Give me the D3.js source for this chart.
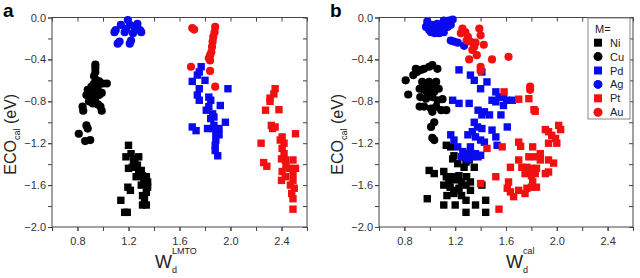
<!DOCTYPE html>
<html lang="en">
  <head>
    <meta charset="UTF-8" />
    <title>ECO vs Wd</title>
    <style>
      body { margin: 0; background: #fff; }
      svg { display: block; font-family: "Liberation Sans", Arial, sans-serif; }
      .axis path, .axis line { stroke: #444; }
      .axis text { fill: #333; font-size: 11px; }
    </style>
  </head>
  <body>
    <svg id="chart" width="640" height="278"></svg>

    <script src="https://cdnjs.cloudflare.com/ajax/libs/d3/7.8.5/d3.min.js"></script>
    <script>
      // tick labels
      const xTicks = [0.8, 1.2, 1.6, 2.0, 2.4];
      const yTicks = [0.0, -0.4, -0.8, -1.2, -1.6, -2.0];
      const legendNames = ["Ni", "Cu", "Pd", "Ag", "Pt", "Au"];

      // panel a : W_d^LMTO vs ECO_cal
      const niA = [
        [1.2, -1.22], [1.18, -1.33], [1.22, -1.3], [1.25, -1.35], [1.28, -1.33],
        [1.2, -1.44], [1.23, -1.43], [1.27, -1.41], [1.3, -1.46], [1.31, -1.51],
        [1.34, -1.52], [1.29, -1.51], [1.26, -1.52], [1.35, -1.57], [1.35, -1.62],
        [1.34, -1.67], [1.325, -1.73], [1.31, -1.79], [1.34, -1.79], [1.195, -1.62],
        [1.215, -1.65], [1.14, -1.745], [1.17, -1.86], [1.19, -1.86], [1.3, -1.6],
        [1.32, -1.57], [1.31, -1.7], [1.24, -1.37], [1.28, -1.47]
      ];
      const cuA = [
        [0.94, -0.45], [0.94, -0.48], [0.94, -0.52], [0.93, -0.56], [0.95, -0.6],
        [0.93, -0.63], [0.97, -0.61], [1.0, -0.63], [1.03, -0.63], [0.91, -0.66],
        [0.96, -0.66], [0.88, -0.69], [0.92, -0.71], [0.95, -0.7], [0.87, -0.74],
        [0.9, -0.76], [0.94, -0.77], [0.97, -0.74], [0.89, -0.8], [0.92, -0.82],
        [0.98, -0.85], [0.99, -0.89], [0.96, -0.83], [0.84, -0.85], [0.845, -0.89],
        [0.87, -1.03], [0.88, -1.06], [0.81, -1.11], [0.86, -1.18], [0.9, -1.17],
        [0.95, -0.68], [0.99, -0.72]
      ];
      const pdA = [
        [1.77, -0.47], [1.755, -0.52], [1.74, -0.55], [1.7, -0.61], [1.8, -0.6],
        [1.755, -0.68], [1.74, -0.74], [1.755, -0.79], [1.83, -0.76], [1.845, -0.79],
        [1.83, -0.85], [1.92, -0.84], [1.98, -0.68], [1.81, -0.885], [1.86, -0.92],
        [1.845, -0.965], [1.87, -0.95], [1.96, -1.0], [1.7, -1.045], [1.73, -1.08],
        [1.82, -1.06], [1.86, -1.06], [1.91, -1.06], [1.885, -1.11], [1.91, -1.12],
        [1.885, -1.17], [1.88, -1.22], [1.88, -1.27], [1.9, -1.32], [1.87, -1.03]
      ];
      const agA = [
        [1.1, -0.12], [1.09, -0.14], [1.14, -0.07], [1.17, -0.14], [1.195, -0.025],
        [1.21, -0.07], [1.235, -0.15], [1.25, -0.09], [1.27, -0.06], [1.29, -0.12],
        [1.3, -0.14], [1.115, -0.25], [1.13, -0.23], [1.21, -0.25], [1.22, -0.22],
        [1.26, -0.08], [1.18, -0.11]
      ];
      const ptA = [
        [2.35, -0.68], [2.34, -0.73], [2.31, -0.77], [2.31, -0.8], [2.275, -0.885],
        [2.38, -0.88], [2.32, -1.03], [2.33, -1.06], [2.35, -1.045], [2.51, -1.11],
        [2.24, -1.2], [2.405, -1.14], [2.39, -1.17], [2.42, -1.2], [2.405, -1.25],
        [2.42, -1.3], [2.4, -1.35], [2.43, -1.36], [2.49, -1.36], [2.26, -1.385],
        [2.285, -1.42], [2.435, -1.41], [2.46, -1.44], [2.51, -1.44], [2.49, -1.49],
        [2.405, -1.47], [2.43, -1.52], [2.49, -1.555], [2.47, -1.6], [2.5, -1.63],
        [2.48, -1.68], [2.49, -1.73], [2.49, -1.83], [2.4, -1.555]
      ];
      const auA = [
        [1.7, -0.1], [1.715, -0.115], [1.88, -0.09], [1.875, -0.14], [1.865, -0.185],
        [1.86, -0.23], [1.855, -0.28], [1.85, -0.33], [1.84, -0.36], [1.83, -0.39],
        [1.84, -0.41], [1.69, -0.47], [1.84, -0.51], [1.88, -0.66]
      ];

      // panel b : W_d^cal vs ECO_cal
      const niB = [
        [0.995, -1.46], [1.035, -1.49], [1.11, -1.47], [1.18, -1.35], [1.19, -1.32],
        [1.13, -1.22], [1.165, -1.235], [1.22, -1.395], [1.27, -1.43], [1.285, -1.38],
        [1.31, -1.36], [1.35, -1.43], [1.13, -1.52], [1.15, -1.57], [1.18, -1.52],
        [1.2, -1.55], [1.23, -1.51], [1.25, -1.57], [1.11, -1.6], [1.16, -1.62],
        [1.19, -1.65], [1.23, -1.63], [1.285, -1.6], [1.32, -1.65], [1.135, -1.7],
        [1.19, -1.68], [1.25, -1.7], [1.285, -1.745], [0.98, -1.73], [1.11, -1.79],
        [1.2, -1.79], [1.36, -1.79], [1.44, -1.745], [1.285, -1.86], [1.44, -1.86],
        [1.41, -1.6], [1.32, -1.57], [1.29, -1.52]
      ];
      const cuB = [
        [0.81, -0.6], [0.83, -0.735], [0.89, -0.49], [0.9, -0.52], [0.93, -0.5],
        [0.955, -0.49], [0.995, -0.47], [1.02, -0.455], [1.06, -0.49], [0.87, -0.55],
        [0.94, -0.615], [0.97, -0.63], [0.995, -0.615], [1.02, -0.645], [1.05, -0.615],
        [0.92, -0.68], [0.955, -0.69], [0.995, -0.69], [1.035, -0.71], [1.07, -0.68],
        [0.925, -0.76], [0.97, -0.775], [1.02, -0.76], [1.06, -0.79], [1.1, -0.78],
        [0.92, -0.85], [0.955, -0.85], [1.01, -0.87], [1.05, -0.85], [1.09, -0.885],
        [1.13, -0.885], [1.02, -0.9], [1.01, -1.045], [1.035, -1.0], [1.035, -1.17],
        [1.02, -1.15], [1.005, -0.74], [0.98, -0.71]
      ];
      const pdB = [
        [1.23, -0.5], [1.32, -0.55], [1.35, -0.6], [1.41, -0.52], [1.45, -0.615],
        [1.4, -0.68], [1.18, -0.79], [1.23, -0.82], [1.31, -0.82], [1.52, -0.71],
        [1.545, -0.76], [1.49, -0.79], [1.52, -0.805], [1.58, -0.76], [1.605, -0.79],
        [1.65, -0.79], [1.58, -0.84], [1.38, -0.885], [1.43, -0.9], [1.41, -0.93],
        [1.47, -0.93], [1.56, -0.93], [1.35, -1.0], [1.375, -1.045], [1.41, -1.06],
        [1.49, -1.075], [1.61, -1.045], [1.335, -1.09], [1.3, -1.12], [1.36, -1.14],
        [1.4, -1.17], [1.43, -1.19], [1.52, -1.14], [1.53, -1.22], [1.165, -1.12],
        [1.19, -1.17], [1.22, -1.235], [1.32, -1.235], [1.26, -1.28], [1.285, -1.3],
        [1.32, -1.3], [1.36, -1.3], [1.4, -1.315], [1.25, -1.33], [1.3, -1.35],
        [1.33, -1.33], [1.38, -1.33]
      ];
      const agB = [
        [0.98, -0.04], [0.995, -0.12], [1.02, -0.07], [1.05, -0.105], [1.06, -0.06],
        [1.09, -0.12], [1.1, -0.08], [1.11, -0.14], [1.125, -0.04], [1.14, -0.09],
        [1.15, -0.03], [1.165, -0.07], [1.18, -0.02], [1.075, -0.15], [1.04, -0.15],
        [0.97, -0.09], [1.165, -0.22], [1.19, -0.23], [1.22, -0.24], [1.27, -0.27],
        [1.01, -0.14], [1.11, -0.03]
      ];
      const ptB = [
        [1.585, -0.71], [1.7, -0.78], [1.78, -0.775], [1.82, -0.88], [1.83, -0.895],
        [1.57, -1.235], [1.45, -1.25], [1.7, -1.19], [1.715, -1.23], [1.81, -1.235],
        [1.935, -1.2], [1.91, -1.07], [1.935, -1.09], [1.96, -1.125], [1.99, -1.155],
        [2.0, -1.2], [2.015, -1.03], [2.03, -1.07], [1.78, -1.33], [1.83, -1.33],
        [1.87, -1.3], [1.87, -1.36], [1.935, -1.36], [1.975, -1.39], [1.7, -1.36],
        [1.635, -1.43], [1.725, -1.43], [1.765, -1.43], [1.8, -1.44], [1.84, -1.44],
        [1.75, -1.49], [1.8, -1.51], [1.83, -1.49], [1.91, -1.49], [1.935, -1.475],
        [1.52, -1.52], [1.4, -1.585], [1.62, -1.57], [1.61, -1.63], [1.635, -1.665],
        [1.66, -1.71], [1.7, -1.65], [1.765, -1.63], [1.75, -1.68], [1.8, -1.62],
        [1.81, -1.57], [1.84, -1.62], [1.545, -1.83]
      ];
      const auB = [
        [1.257, -0.105], [1.245, -0.15], [1.28, -0.14], [1.3, -0.185], [1.29, -0.22],
        [1.32, -0.23], [1.35, -0.28], [1.335, -0.31], [1.39, -0.105], [1.4, -0.17],
        [1.425, -0.26], [1.37, -0.36], [1.31, -0.4], [1.49, -0.4], [1.62, -0.375],
        [1.4, -0.47], [1.4, -0.51], [1.36, -0.24], [1.79, -0.66], [1.79, -0.69]
      ];

      const svg = d3.select("#chart");
      const black = "#000", blue = "#0a0af0", red = "#f31010";

      function drawPanel({ left, right, letter, sup, titleX, series, legend }) {
        const top = 17.5, bottom = 227;
        const x = d3.scaleLinear().domain([0.6, 2.6]).range([left, right]);
        const y = d3.scaleLinear().domain([-2.0, 0.0]).range([bottom, top]);
        const minorX = d3.range(0.6, 2.61, 0.2);
        const minorY = d3.range(-2.0, 0.01, 0.2);

        const g = svg.append("g");

        // frame
        g.append("rect")
          .attr("x", left).attr("y", top)
          .attr("width", right - left).attr("height", bottom - top)
          .attr("fill", "none").attr("stroke", "#444").attr("stroke-width", 1);

        // ticks every 0.2, bottom/left outside, top/right inside
        g.append("g").attr("class", "axis")
          .attr("transform", `translate(0,${bottom})`)
          .call(d3.axisBottom(x).tickValues(minorX).tickSize(4).tickFormat(""))
          .call((s) => s.select(".domain").remove());
        g.append("g").attr("class", "axis")
          .attr("transform", `translate(0,${bottom})`)
          .call(d3.axisBottom(x).tickValues(xTicks).tickSize(4).tickPadding(6)
            .tickFormat(d3.format(".1f")))
          .call((s) => s.select(".domain").remove());
        g.append("g").attr("class", "axis")
          .attr("transform", `translate(${left},0)`)
          .call(d3.axisLeft(y).tickValues(minorY).tickSize(4).tickFormat(""))
          .call((s) => s.select(".domain").remove());
        g.append("g").attr("class", "axis")
          .attr("transform", `translate(${left},0)`)
          .call(d3.axisLeft(y).tickValues(yTicks).tickSize(4).tickPadding(2)
            .tickFormat(d3.format(".1f")))
          .call((s) => s.select(".domain").remove());
        g.append("g").attr("class", "axis")
          .attr("transform", `translate(0,${top})`)
          .call(d3.axisBottom(x).tickValues(minorX).tickSize(4).tickFormat(""))
          .call((s) => s.select(".domain").remove());
        g.append("g").attr("class", "axis")
          .attr("transform", `translate(${right},0)`)
          .call(d3.axisRight(y).tickValues(minorY).tickSize(-4).tickFormat(""))
          .call((s) => s.select(".domain").remove());

        // points
        series.forEach((s) => {
          const layer = g.append("g").attr("fill", s.color);
          if (s.shape === "square") {
            layer.selectAll("rect").data(s.data).join("rect")
              .attr("x", (d) => x(d[0]) - 3.7)
              .attr("y", (d) => y(d[1]) - 3.7)
              .attr("width", 7.4).attr("height", 7.4);
          } else {
            layer.selectAll("circle").data(s.data).join("circle")
              .attr("cx", (d) => x(d[0]))
              .attr("cy", (d) => y(d[1]))
              .attr("r", 4.1);
          }
        });

        // panel letter
        svg.append("text")
          .attr("x", left - 49).attr("y", 17)
          .attr("font-size", 19).attr("font-weight", "bold")
          .text(letter);

        // y title
        const yt = svg.append("text")
          .attr("transform", `translate(${left - 36},${(top + bottom) / 2 + 12}) rotate(-90)`)
          .attr("text-anchor", "middle")
          .attr("font-size", 16).attr("fill", "#222");
        yt.append("tspan").text("ECO");
        yt.append("tspan").attr("font-size", 9).attr("dy", 4).text("cal");
        yt.append("tspan").attr("dy", -4).text(" (eV)");

        // x title
        const xt = svg.append("text")
          .attr("x", titleX).attr("y", 268)
          .attr("font-size", 18).attr("fill", "#222");
        xt.append("tspan").text("W");
        xt.append("tspan").attr("font-size", 9).attr("dy", 5).text("d");
        xt.append("tspan").attr("font-size", 9).attr("dx", -5).attr("dy", -19).text(sup);

        if (legend) {
          const lg = g.append("g");
          lg.append("rect")
            .attr("x", 588).attr("y", 18).attr("width", 42).attr("height", 101)
            .attr("fill", "#fff").attr("stroke", "#888");
          lg.append("text").attr("x", 595).attr("y", 33)
            .attr("font-size", 11).attr("fill", "#222").text("M=");
          const ly = d3.scalePoint().domain(legendNames).range([42.7, 112.2]);
          series.forEach((s) => {
            const yy = ly(s.name);
            if (s.shape === "square") {
              lg.append("rect").attr("x", 598 - 4).attr("y", yy - 4)
                .attr("width", 8).attr("height", 8).attr("fill", s.color);
            } else {
              lg.append("circle").attr("cx", 598).attr("cy", yy).attr("r", 4.5)
                .attr("fill", s.color);
            }
            lg.append("text").attr("x", 610).attr("y", yy + 4)
              .attr("font-size", 11).attr("fill", "#222").text(s.name);
          });
        }
      }

      drawPanel({
        left: 52, right: 307, letter: "a", sup: "LMTO", titleX: 155,
        series: [
          { name: "Ni", shape: "square", color: black, data: niA },
          { name: "Cu", shape: "circle", color: black, data: cuA },
          { name: "Pd", shape: "square", color: blue, data: pdA },
          { name: "Ag", shape: "circle", color: blue, data: agA },
          { name: "Pt", shape: "square", color: red, data: ptA },
          { name: "Au", shape: "circle", color: red, data: auA }
        ]
      });

      drawPanel({
        left: 379, right: 633, letter: "b", sup: "cal", titleX: 506, legend: true,
        series: [
          { name: "Ni", shape: "square", color: black, data: niB },
          { name: "Cu", shape: "circle", color: black, data: cuB },
          { name: "Pd", shape: "square", color: blue, data: pdB },
          { name: "Ag", shape: "circle", color: blue, data: agB },
          { name: "Pt", shape: "square", color: red, data: ptB },
          { name: "Au", shape: "circle", color: red, data: auB }
        ]
      });
    </script>
  </body>
</html>
